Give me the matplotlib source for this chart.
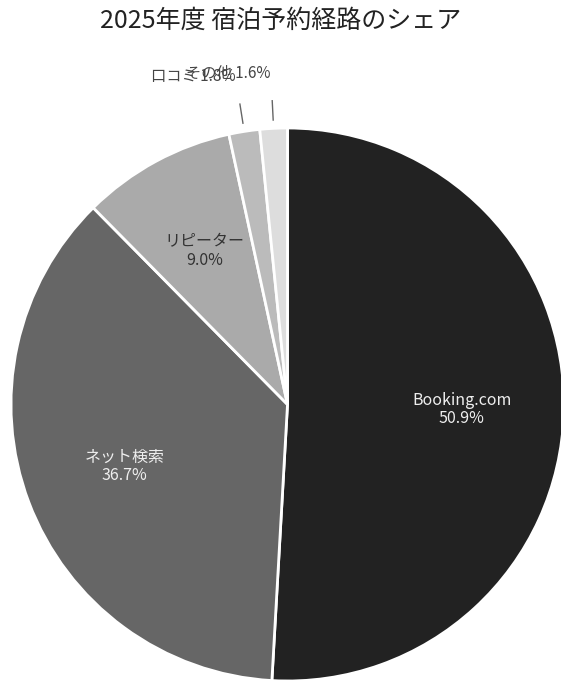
import numpy as np
import matplotlib.pyplot as plt

plt.rcParams['font.family'] = ['Noto Sans CJK JP', 'DejaVu Sans']

labels = ['Booking.com', 'ネット検索', 'リピーター', '口コミ', 'その他']
shares = [50.9, 36.7, 9.0, 1.8, 1.6]
colors = ['#222222', '#666666', '#aaaaaa', '#bbbbbb', '#dddddd']
text_colors = ['#eeeeee', '#eeeeee', '#333333', '#444444', '#444444']
inside = [True, True, True, False, False]

W, H = 561, 682
cx, cy, R = 287.5, 404.5, 276.5

fig = plt.figure(figsize=(W / 100, H / 100), dpi=100)
ax = fig.add_axes([0, 0, 1, 1])

wedges, _ = ax.pie(shares, colors=colors, startangle=90, counterclock=False,
                   wedgeprops=dict(edgecolor='white', linewidth=2))

for w, lab, val, tc, ins in zip(wedges, labels, shares, text_colors, inside):
    mid = np.deg2rad((w.theta1 + w.theta2) / 2)
    c, s = np.cos(mid), np.sin(mid)
    if ins:
        ax.text(0.63 * c, 0.63 * s, f'{lab}\n{val:.1f}%', ha='center', va='center',
                fontsize=11.5, color=tc, linespacing=1.1)
    else:
        # small slices: leader line + label outside
        ax.plot([1.03 * c, 1.1 * c], [1.03 * s, 1.1 * s], color='#666666', lw=1)
        ax.text(1.2 * c, 1.2 * s, f'{lab} {val:.1f}%', ha='right' if c < 0 else 'left',
                va='center', fontsize=11, color=tc)

ax.set_aspect('auto')
ax.set_xlim(-cx / R, (W - cx) / R)
ax.set_ylim(-(H - cy) / R, cy / R)
ax.axis('off')

fig.text(0.5, 1 - 21 / H, '2025年度 宿泊予約経路のシェア', ha='center', va='center',
         fontsize=18, color='#222222')

fig.savefig('out.png', dpi=100)
